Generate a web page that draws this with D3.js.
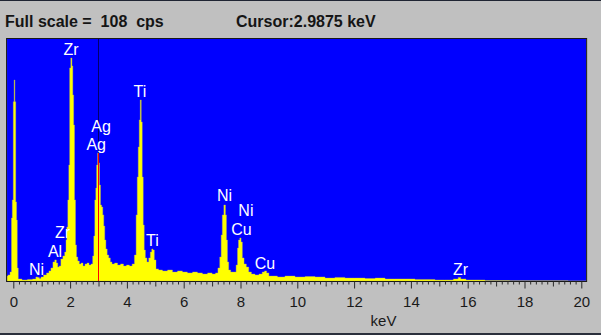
<!DOCTYPE html>
<html>
<head>
<meta charset="utf-8">
<script src="https://cdn.jsdelivr.net/npm/d3@7"></script>
<style>
  html, body { margin: 0; padding: 0; background: #c0c0c0; }
  svg { display: block; }
  text { font-family: "Liberation Sans", Arial, sans-serif; }
</style>
</head>
<body>
<svg id="chart" width="601" height="335"></svg>
<script>
// EDS spectrum: energy (keV) and count rate (cps)
const energy = [
  -0.22, -0.15, -0.08, -0.05, -0.02, 0.02, 0.04, 0.07, 0.10, 0.13, 0.15, 0.20,
  0.41, 0.59, 0.76, 0.83, 0.89, 0.94, 1.01, 1.12, 1.22, 1.29, 1.36, 1.43,
  1.49, 1.54, 1.59, 1.64, 1.71, 1.78, 1.84, 1.87, 1.90, 1.94, 1.97, 2.00,
  2.05, 2.08, 2.11, 2.14, 2.17, 2.21, 2.24, 2.30, 2.35, 2.42, 2.49, 2.56,
  2.63, 2.70, 2.77, 2.82, 2.85, 2.89, 2.92, 2.95, 2.99, 3.02, 3.05, 3.09,
  3.13, 3.17, 3.20, 3.24, 3.28, 3.33, 3.39, 3.44, 3.51, 3.62, 3.72, 3.83,
  3.93, 4.04, 4.14, 4.23, 4.30, 4.35, 4.38, 4.42, 4.45, 4.49, 4.52, 4.56,
  4.59, 4.63, 4.67, 4.74, 4.80, 4.85, 4.90, 4.94, 4.99, 5.06, 5.17, 5.34,
  5.52, 5.69, 5.87, 6.04, 6.22, 6.40, 6.57, 6.75, 6.93, 7.07, 7.17, 7.24,
  7.30, 7.34, 7.38, 7.45, 7.49, 7.52, 7.56, 7.61, 7.70, 7.81, 7.88, 7.91,
  7.95, 8.00, 8.04, 8.09, 8.16, 8.25, 8.33, 8.44, 8.58, 8.72, 8.81, 8.88,
  8.96, 9.04, 9.21, 9.39, 9.74, 10.10, 10.45, 10.80, 11.15, 11.50, 11.85, 12.21,
  12.56, 12.92, 13.26, 13.62, 13.97, 14.32, 14.67, 15.02, 15.37, 15.62, 15.71, 15.80,
  16.08, 16.43, 16.79, 17.14, 17.82, 18.90, 20.17
];
const counts = [
  2.2, 2.7, 4.0, 28.1, 36.2, 80.0, 89.7, 80.0, 35.3, 27.2, 5.8, 0.9,
  0.45, 0.7, 0.9, 1.8, 1.6, 1.1, 1.8, 2.7, 3.6, 4.5, 5.8, 8.5,
  9.4, 8.0, 6.2, 6.7, 9.8, 11.2, 12.9, 18.3, 24.1, 36.2, 51.8, 95.1,
  99.5, 96.0, 83.0, 69.6, 36.2, 16.1, 10.7, 8.9, 7.6, 8.0, 6.7, 7.6,
  8.0, 7.1, 7.6, 11.2, 20.1, 36.2, 41.5, 51.8, 57.1, 52.7, 42.8, 33.9,
  33.0, 29.5, 24.5, 18.3, 14.3, 11.6, 10.3, 8.5, 7.6, 8.0, 7.1, 7.6,
  6.7, 7.1, 6.7, 7.6, 11.6, 29.5, 46.4, 59.8, 71.9, 80.8, 71.0, 46.4,
  25.0, 13.8, 10.3, 8.5, 10.3, 12.9, 14.3, 13.8, 9.4, 5.4, 4.9, 4.5,
  4.9, 4.0, 4.5, 4.0, 3.6, 4.0, 3.6, 3.1, 3.6, 3.1, 3.6, 5.8,
  10.7, 20.5, 29.5, 33.9, 29.5, 18.3, 8.5, 4.9, 4.0, 4.0, 7.1, 14.7,
  18.3, 19.2, 17.4, 10.3, 7.6, 6.2, 4.0, 3.1, 2.7, 3.1, 4.0, 4.5,
  3.6, 2.2, 2.2, 1.8, 2.2, 1.8, 2.0, 1.8, 1.3, 1.6, 1.3, 1.3,
  1.1, 1.3, 0.9, 0.9, 0.9, 0.7, 0.7, 0.45, 0.45, 0.9, 1.6, 0.9,
  0.45, 0.45, 0.2, 0.2, 0.1, 0.1, 0
];

// Peak identification labels: element, energy (keV), label height (cps)
const peakNames   = ["Zr", "Ti", "Ag", "Ag", "Ni", "Ni", "Cu", "Cu", "Ti", "Zr", "Al", "Ni", "Zr"];
const peakEnergy  = [2.03, 4.46, 3.09, 2.92, 7.44, 8.19, 8.03, 8.86, 4.90, 1.73, 1.47, 0.82, 15.75];
const peakLabelAt = [100.9, 82.3, 66.5, 58.5, 35.5, 28.8, 20.5, 5.4, 15.4, 19.2, 10.9, 2.7, 2.9];

// Axis settings
const fullScale = 108;        // cps
const cursorKeV = 2.9875;
const xTicksLabeled = d3.range(0, 21, 2);
const xTicksOdd = d3.range(1, 20, 2);
const xTicksMinor = d3.range(0, 101).map(i => i * 0.2).filter(v => Math.abs(v - Math.round(v)) > 1e-6);

const svg = d3.select("#chart");
const W = 601, H = 335;

svg.append("rect").attr("width", W).attr("height", H).attr("fill", "#c0c0c0");
// window edges
svg.append("rect").attr("x", 0).attr("y", 0).attr("width", W).attr("height", 1).attr("fill", "#1f2533");
svg.append("rect").attr("x", 0).attr("y", H - 2).attr("width", W).attr("height", 2).attr("fill", "#2a2f3c");

const x = d3.scaleLinear().domain([0, 20]).range([13.3, 581.3]);
const xMin = -0.22, xMax = 20.17;
const y = d3.scaleLinear().domain([0, fullScale]).range([281, 39]);

const plotLeft = x(xMin), plotRight = x(xMax), plotTop = y(fullScale), plotBottom = y(0);

// header
svg.append("text")
  .attr("x", 5).attr("y", 26.5)
  .style("white-space", "pre")
  .attr("font-size", 16).attr("font-weight", "bold").attr("fill", "#151515")
  .text(`Full scale =  ${fullScale}  cps`);
svg.append("text")
  .attr("x", 236).attr("y", 26.5)
  .style("white-space", "pre")
  .attr("font-size", 16).attr("font-weight", "bold").attr("fill", "#151515")
  .text(`Cursor:${cursorKeV.toFixed(4)} keV`);

// plot background
svg.append("rect")
  .attr("x", plotLeft).attr("y", plotTop)
  .attr("width", plotRight - plotLeft).attr("height", plotBottom - plotTop)
  .attr("fill", "#0000ff");

svg.append("clipPath").attr("id", "plotclip")
  .append("rect").attr("x", plotLeft).attr("y", plotTop)
  .attr("width", plotRight - plotLeft).attr("height", plotBottom - plotTop);

const data = energy.map((e, i) => ({ e, c: counts[i] }));

const area = d3.area()
  .curve(d3.curveStep)
  .x(d => x(d.e))
  .y0(y(0))
  .y1(d => y(d.c));

const plot = svg.append("g").attr("clip-path", "url(#plotclip)");
plot.append("path")
  .datum(data)
  .attr("d", area)
  .attr("fill", "#ffff00")
  .attr("stroke", "#b8b860")
  .attr("stroke-width", 0.4);

// cursor: dark above the spectrum, red inside it
const nearest = data.reduce((a, b) => Math.abs(b.e - cursorKeV) < Math.abs(a.e - cursorKeV) ? b : a);
const cx = Math.round(x(cursorKeV)) + 0.5;
plot.append("line")
  .attr("x1", cx).attr("x2", cx)
  .attr("y1", plotTop).attr("y2", y(nearest.c))
  .attr("stroke", "#00006a").attr("stroke-width", 1);
plot.append("line")
  .attr("x1", cx).attr("x2", cx)
  .attr("y1", y(nearest.c)).attr("y2", plotBottom)
  .attr("stroke", "#ff0000").attr("stroke-width", 1);

// peak labels
svg.append("g").selectAll("text")
  .data(peakNames.map((n, i) => ({ n, e: peakEnergy[i], h: peakLabelAt[i] })))
  .join("text")
  .attr("x", d => x(d.e))
  .attr("y", d => y(d.h))
  .attr("text-anchor", "middle")
  .attr("font-size", 16)
  .attr("fill", "#ffffff")
  .text(d => d.n);

// frame
svg.append("rect")
  .attr("x", plotLeft - 0.5).attr("y", plotTop - 0.5)
  .attr("width", plotRight - plotLeft + 1).attr("height", plotBottom - plotTop + 1)
  .attr("fill", "none").attr("stroke", "#1a1a1a").attr("stroke-width", 1);

// x axis ticks
const axisY = plotBottom + 0.5;
function tickAxis(values, size, labeled) {
  const ax = d3.axisBottom(x).tickValues(values).tickSize(size).tickPadding(7.5)
    .tickFormat(labeled ? d3.format("d") : () => "");
  const g = svg.append("g").attr("transform", `translate(0,${axisY})`).call(ax);
  g.select(".domain").remove();
  g.selectAll(".tick line").attr("stroke", "#2a2a2a");
  g.selectAll(".tick text").attr("fill", "#1a1a1a").attr("font-size", 15)
    .attr("font-family", "'Liberation Sans', Arial, sans-serif");
  return g;
}
tickAxis(xTicksMinor, 3, false);
tickAxis(xTicksOdd, 5, false);
tickAxis(xTicksLabeled, 7, true);

svg.append("text")
  .attr("x", 383.5).attr("y", 326)
  .attr("text-anchor", "middle")
  .attr("font-size", 15).attr("fill", "#1a1a1a")
  .text("keV");
</script>
</body>
</html>
